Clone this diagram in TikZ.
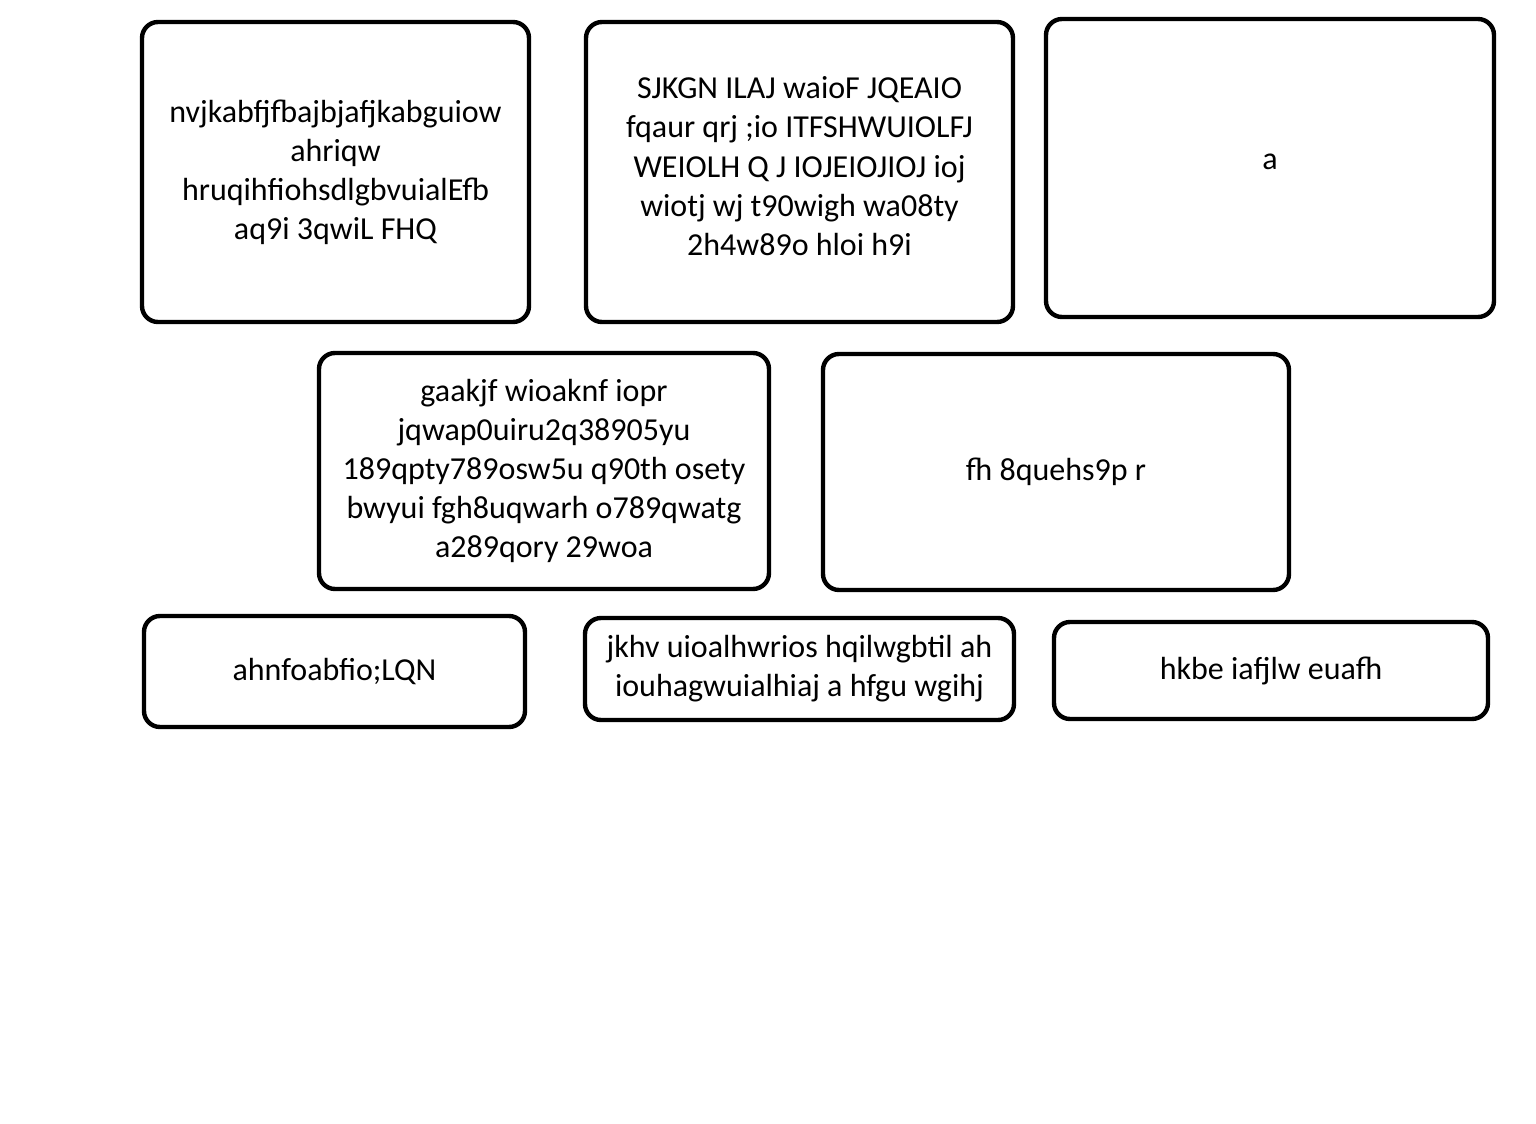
\documentclass[tikz,border=0pt]{standalone}
\usepackage{fontspec}
\setmainfont{Carlito}
\usepackage{tikz}

\begin{document}
\begin{tikzpicture}[x=0.75pt,y=-0.75pt,
  card/.style={draw,line width=3.3pt,rounded corners=12pt,inner sep=0pt,align=center,
    font=\fontsize{24}{29.3}\selectfont}]
\useasboundingbox[fill=white] (0,0) rectangle (1536,1124);
\node[card,minimum width=290.25pt,minimum height=225pt] (a) at (335.5,172) {nvjkabfjfbajbjafjkabguiow\\ahriqw\\hruqihfiohsdlgbvuialEfb\\aq9i 3qwiL FHQ};
\node[card,minimum width=320.25pt,minimum height=225pt] (b) at (799.5,172) {SJKGN ILAJ waioF JQEAIO\\fqaur qrj ;io ITFSHWUIOLFJ\\WEIOLH Q J IOJEIOJIOJ ioj\\wiotj wj t90wigh wa08ty\\2h4w89o hloi h9i\\[-20.3pt]};
\node[card,minimum width=336pt,minimum height=223.5pt] (c) at (1270,168) {a\\[-20.3pt]};
\node[card,minimum width=337.5pt,minimum height=177pt] (d) at (544,471) {gaakjf wioaknf iopr\\jqwap0uiru2q38905yu\\189qpty789osw5u q90th osety\\bwyui fgh8uqwarh o789qwatg\\a289qory 29woa};
\node[card,minimum width=349.5pt,minimum height=177pt] (e) at (1056,472) {fh 8quehs9p r};
\node[card,minimum width=285.75pt,minimum height=83.25pt] (f) at (334.5,671.5) {ahnfoabfio;LQN};
\node[card,minimum width=321.75pt,minimum height=76.5pt] (g) at (799.5,669) {jkhv uioalhwrios hqilwgbtil ah\\iouhagwuialhiaj a hfgu wgihj};
\node[card,minimum width=325.5pt,minimum height=72.75pt] (h) at (1271,670.5) {hkbe iafjlw euafh};
\end{tikzpicture}
\end{document}
